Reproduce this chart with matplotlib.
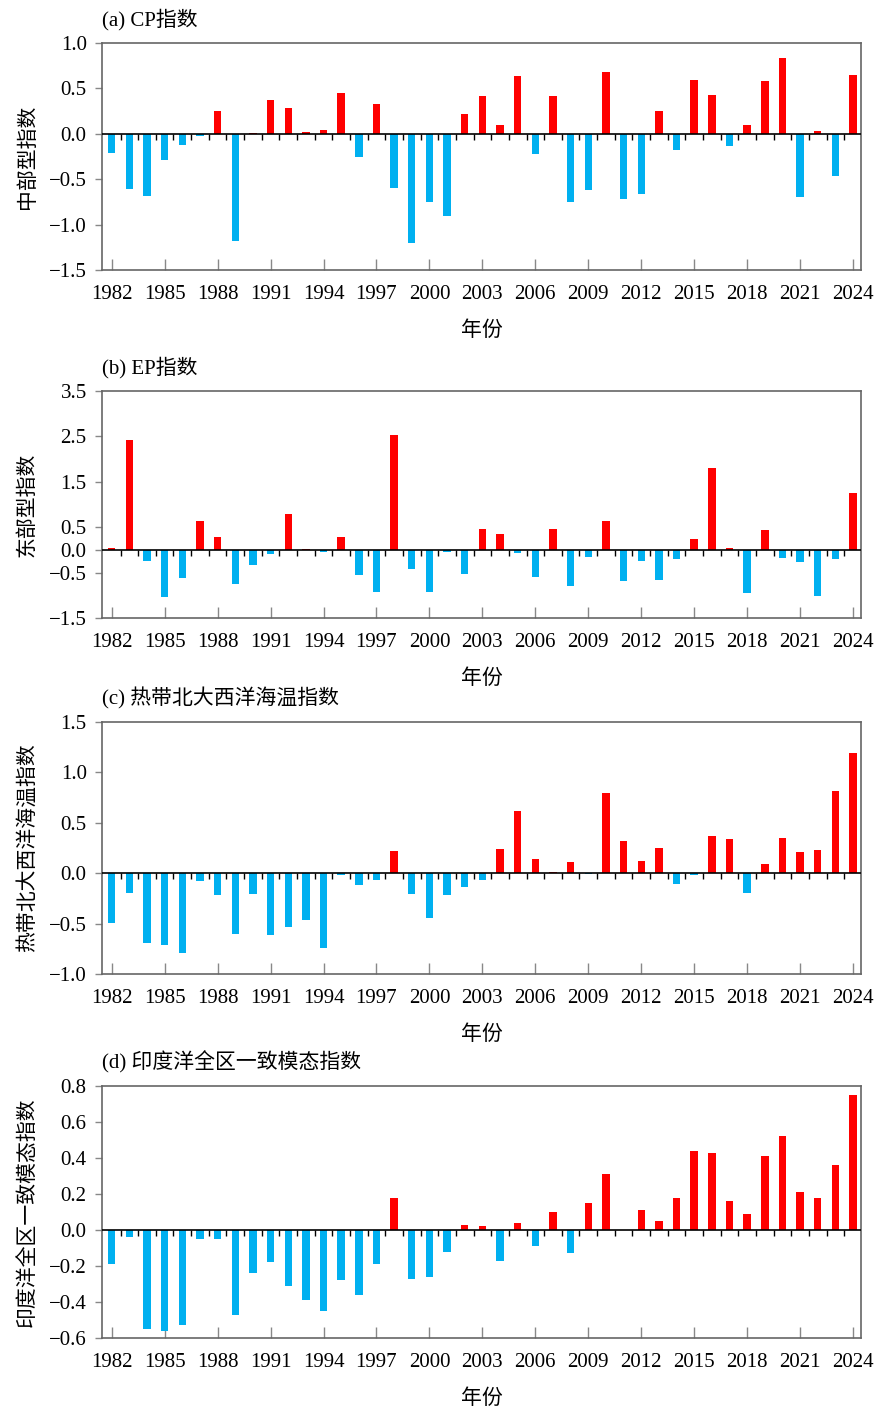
import matplotlib
matplotlib.use("Agg")
import matplotlib.pyplot as plt
from matplotlib.ticker import FuncFormatter

plt.rcParams["font.family"] = ["Liberation Serif", "Noto Sans CJK SC"]
plt.rcParams["font.size"] = 15

# ── data ──
years = list(range(1982, 2025))

cp_index = [-0.21, -0.61, -0.69, -0.29, -0.12, -0.02, 0.25, -1.18, 0.01, 0.37,
            0.28, 0.02, 0.04, 0.45, -0.26, 0.33, -0.60, -1.20, -0.75, -0.90,
            0.22, 0.42, 0.10, 0.64, -0.22, 0.42, -0.75, -0.62, 0.68, -0.72,
            -0.66, 0.25, -0.18, 0.59, 0.43, -0.13, 0.10, 0.58, 0.83, -0.70,
            0.03, -0.47, 0.65]

ep_index = [0.04, 2.41, -0.24, -1.03, -0.62, 0.63, 0.28, -0.75, -0.34, -0.08,
            0.79, 0.01, -0.05, 0.29, -0.56, -0.93, 2.53, -0.43, -0.93, -0.04,
            -0.54, 0.46, 0.36, -0.07, -0.59, 0.46, -0.80, -0.16, 0.63, -0.68,
            -0.24, -0.66, -0.21, 0.23, 1.81, 0.05, -0.94, 0.43, -0.18, -0.27,
            -1.01, -0.21, 1.26]

tna_index = [-0.49, -0.20, -0.69, -0.71, -0.79, -0.08, -0.22, -0.60, -0.21, -0.61,
             -0.53, -0.46, -0.74, -0.02, -0.12, -0.07, 0.22, -0.21, -0.44, -0.22,
             -0.14, -0.07, 0.24, 0.62, 0.14, 0.01, 0.11, -0.01, 0.80, 0.32,
             0.12, 0.25, -0.11, -0.02, 0.37, 0.34, -0.20, 0.09, 0.35, 0.21,
             0.23, 0.82, 1.19]

iobw_index = [-0.19, -0.04, -0.55, -0.56, -0.53, -0.05, -0.05, -0.47, -0.24, -0.18,
              -0.31, -0.39, -0.45, -0.28, -0.36, -0.19, 0.18, -0.27, -0.26, -0.12,
              0.03, 0.02, -0.17, 0.04, -0.09, 0.10, -0.13, 0.15, 0.31, 0.00,
              0.11, 0.05, 0.18, 0.44, 0.43, 0.16, 0.09, 0.41, 0.52, 0.21,
              0.18, 0.36, 0.75]

titles = ["(a) CP指数", "(b) EP指数", "(c) 热带北大西洋海温指数", "(d) 印度洋全区一致模态指数"]
ylabels = ["中部型指数", "东部型指数", "热带北大西洋海温指数", "印度洋全区一致模态指数"]
yticks_list = [
    [-1.5, -1.0, -0.5, 0.0, 0.5, 1.0],
    [-1.5, -0.5, 0.0, 0.5, 1.5, 2.5, 3.5],
    [-1.0, -0.5, 0.0, 0.5, 1.0, 1.5],
    [-0.6, -0.4, -0.2, 0.0, 0.2, 0.4, 0.6, 0.8],
]
xtick_years = years[::3]

# ── layout ──
W, H = 878, 1406
fig = plt.figure(figsize=(W / 100, H / 100), dpi=100)
# (top, bottom) of each panel in pixels
panel_px = [(43, 270), (391, 618), (722, 974), (1086, 1338)]
left_px, right_px = 102, 861

RED = "#FF0000"
BLUE = "#00B0F0"
SPINE = "#666666"


def one_decimal(v, pos):
    return f"{v:.1f}".replace("-", "\u2212")


for k, series in enumerate([cp_index, ep_index, tna_index, iobw_index]):
    top, bot = panel_px[k]
    ax = fig.add_axes([left_px / W, 1 - bot / H, (right_px - left_px) / W, (bot - top) / H])

    colors = [RED if v >= 0 else BLUE for v in series]
    ax.bar(years, series, width=0.42, color=colors, zorder=2)
    ax.axhline(0, color="black", lw=1.2, zorder=3)
    # small downward ticks on the zero line between years
    ax.plot([y + 0.5 for y in years[:-1]], [0] * (len(years) - 1), ls="none",
            marker=3, ms=4, mew=1.0, color="black", zorder=3)

    yt = yticks_list[k]
    ax.set_ylim(yt[0], yt[-1])
    ax.set_yticks(yt)
    ax.yaxis.set_major_formatter(FuncFormatter(one_decimal))
    ax.set_xlim(1981.45, 2024.45)
    ax.set_xticks(xtick_years)

    for s in ax.spines.values():
        s.set_color(SPINE)
        s.set_linewidth(1.2)
    ax.tick_params(axis="x", direction="in", length=8, width=1, color="#888888",
                   pad=11, labelsize=15)
    ax.tick_params(axis="y", direction="out", length=5, width=1, color="#888888",
                   pad=6, labelsize=15)

    ax.set_xlabel("年份", fontsize=15, labelpad=12)
    ax.set_ylabel(ylabels[k], fontsize=15)
    ax.yaxis.set_label_coords(-0.085, 0.5)
    ax.annotate(titles[k], xy=(0, 1), xycoords="axes fraction",
                xytext=(0, 9), textcoords="offset points",
                ha="left", va="bottom", fontsize=15)

fig.savefig("out.png", dpi=100)
